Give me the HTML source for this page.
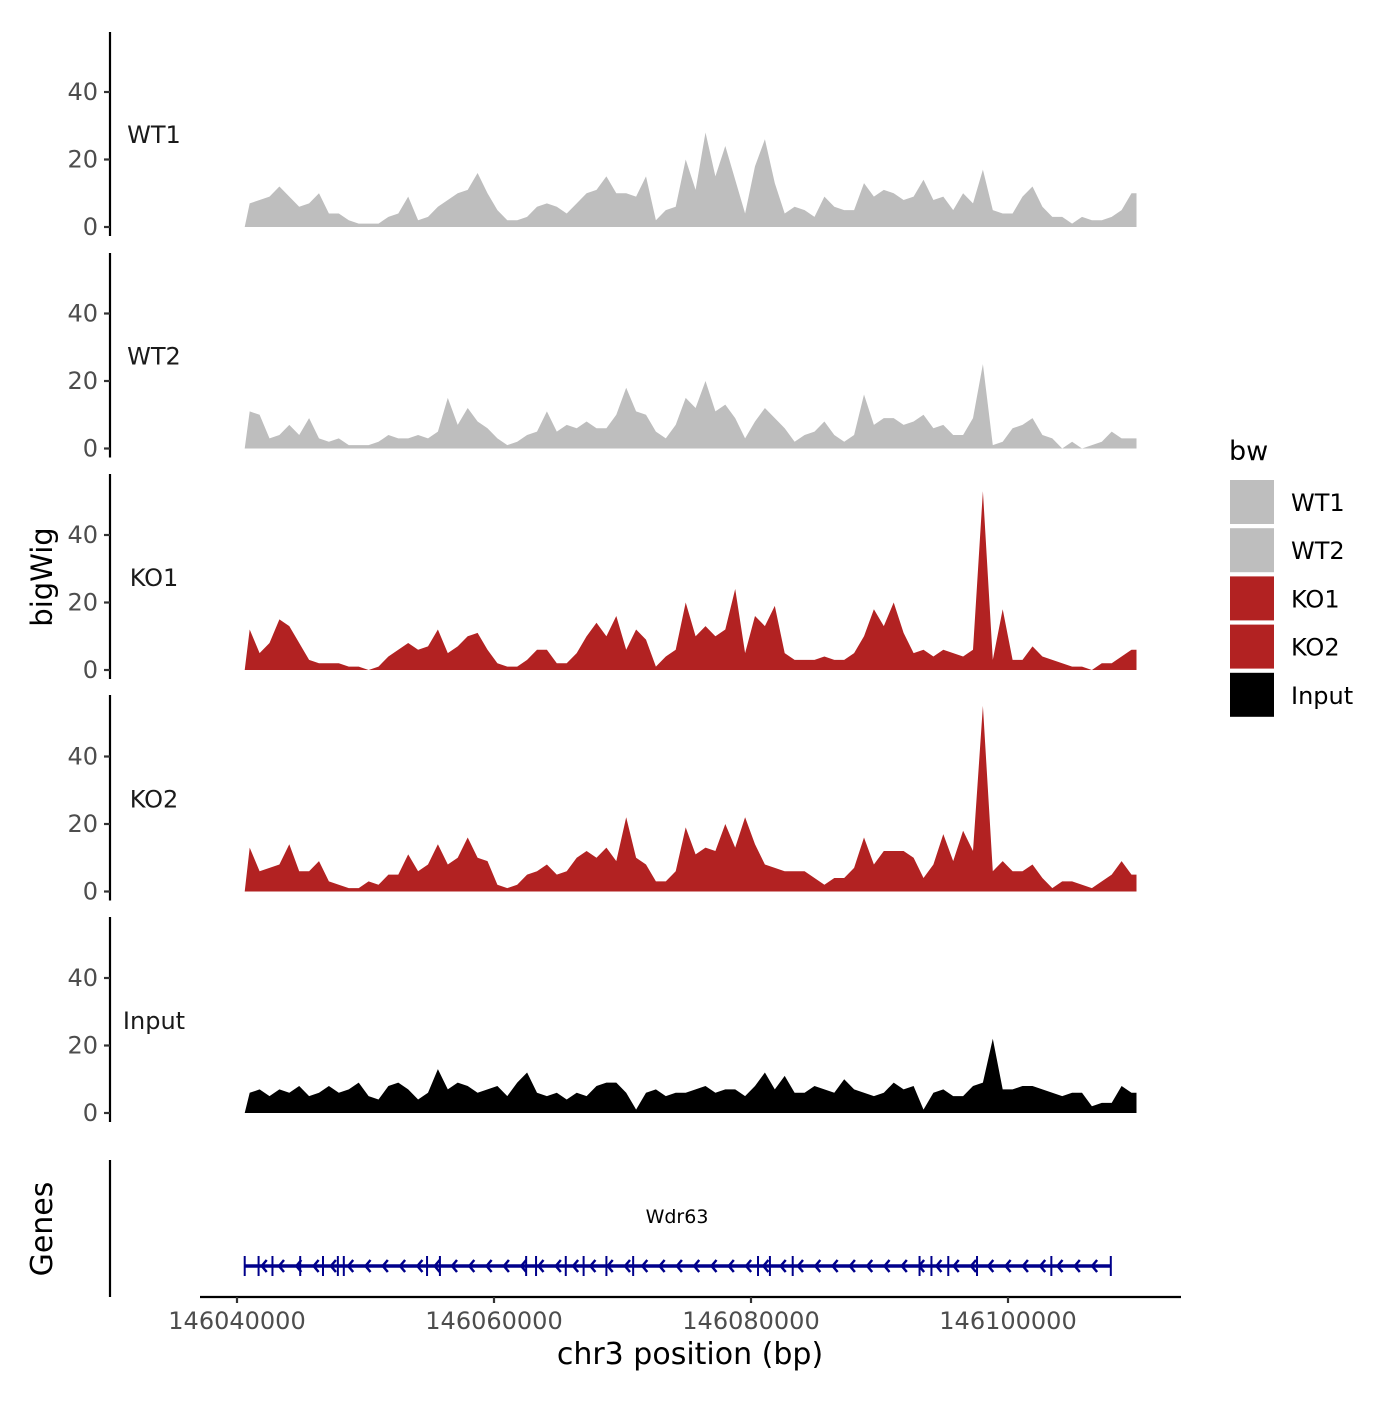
<!DOCTYPE html>
<html><head><meta charset="utf-8"><style>
html,body{margin:0;padding:0;background:#fff;}
svg text{font-family:"DejaVu Sans","Liberation Sans",sans-serif;}
</style></head><body>
<svg id="chart" width="1400" height="1400" viewBox="0 0 1400 1400" xmlns="http://www.w3.org/2000/svg">
<g id="tracks"></g>
<g id="genes"></g>
<g id="xaxis"></g>
<text x="52" y="577" font-size="29" text-anchor="middle" transform="rotate(-90 52 577)">bigWig</text>
<text x="52" y="1229" font-size="30" text-anchor="middle" transform="rotate(-90 52 1229)">Genes</text>
<text x="690" y="1364" font-size="30" text-anchor="middle">chr3 position (bp)</text>
<g id="legend">
<text x="1229" y="460" font-size="27">bw</text>
</g>
</svg>
<script>
const NS="http://www.w3.org/2000/svg";
const trackNames=["WT1","WT2","KO1","KO2","Input"];
const trackColors=["#bebebe","#bebebe","#b22222","#b22222","#000000"];
const wt1=[7,8,9,12,9,6,7,10,4,4,2,1,1,1,3,4,9,2,3,6,8,10,11,16,10,5,2,2,3,6,7,6,4,7,10,11,15,10,10,9,15,2,5,6,20,11,28,15,24,14,4,18,26,13,4,6,5,3,9,6,5,5,13,9,11,10,8,9,14,8,9,5,10,7,17,5,4,4,9,12,6,3,3,1,3,2,2,3,5,10];
const wt2=[11,10,3,4,7,4,9,3,2,3,1,1,1,2,4,3,3,4,3,5,15,7,12,8,6,3,1,2,4,5,11,5,7,6,8,6,6,10,18,11,10,5,3,7,15,12,20,11,13,9,3,8,12,9,6,2,4,5,8,4,2,4,16,7,9,9,7,8,10,6,7,4,4,9,25,1,2,6,7,9,4,3,0,2,0,1,2,5,3,3];
const ko1=[12,5,8,15,13,8,3,2,2,2,1,1,0,1,4,6,8,6,7,12,5,7,10,11,6,2,1,1,3,6,6,2,2,5,10,14,10,16,6,12,9,1,4,6,20,10,13,10,12,24,5,16,13,19,5,3,3,3,4,3,3,5,10,18,13,20,11,5,6,4,6,5,4,6,53,3,18,3,3,7,4,3,2,1,1,0,2,2,4,6];
const ko2=[13,6,7,8,14,6,6,9,3,2,1,1,3,2,5,5,11,6,8,14,8,10,16,10,9,2,1,2,5,6,8,5,6,10,12,10,13,9,22,10,8,3,3,6,19,11,13,12,20,13,22,14,8,7,6,6,6,4,2,4,4,7,16,8,12,12,12,10,4,8,17,9,18,12,55,6,9,6,6,8,4,1,3,3,2,1,3,5,9,5];
const inputVals=[6,7,5,7,6,8,5,6,8,6,7,9,5,4,8,9,7,4,6,13,7,9,8,6,7,8,5,9,12,6,5,6,4,6,5,8,9,9,6,1,6,7,5,6,6,7,8,6,7,7,5,8,12,7,11,6,6,8,7,6,10,7,6,5,6,9,7,8,1,6,7,5,5,8,9,22,7,7,8,8,7,6,5,6,6,2,3,3,8,6];
const seriesList=[wt1,wt2,ko1,ko2,inputVals];
const yTicks=[0,20,40];
const xTicks=[146040000,146060000,146080000,146100000];
const xTickLabels=["146040000","146060000","146080000","146100000"];
const dataStart=146040600, dataEnd=146110000;
const geneName="Wdr63";
const geneStart=146040600, geneEnd=146108000;
const exons=[146040600,146042000,146043400,146046200,146048500,146050000,146050600,146059000,146060300,146069000,146070000,146073000,146074800,146077100,146079800,146092400,146093600,146095900,146108700,146109900,146111600,146114500,146122000,146128000];

const xScale=v=>237+(v-146040000)*(257/20000);
const svg=document.getElementById('chart');
function mk(tag,attrs,parent){const e=document.createElementNS(NS,tag);for(const k in attrs)e.setAttribute(k,attrs[k]);parent.appendChild(e);return e;}
const tracks=document.getElementById('tracks');
const panelTop=[32,253,474,695,917];
trackNames.forEach((name,i)=>{
  const base=227+i*221.5;
  const yS=v=>base-v*3.375;
  const g=mk('g',{},tracks);
  
  
  const ax=mk('line',{x1:110,x2:110,y1:panelTop[i],y2:base+9,stroke:'#000','stroke-width':2.2},g);
  
  
  yTicks.forEach(t=>{
    const tl=mk('line',{x1:104,x2:110,y1:yS(t),y2:yS(t),stroke:'#333','stroke-width':2.2},g);
    
    
    const tx=mk('text',{x:98,y:yS(t)+8,'font-size':24,'text-anchor':'end',fill:'#4d4d4d'},g);
    tx.textContent=t;
    
    
  });
  const lab=mk('text',{x:154,y:base-84,'font-size':24,'text-anchor':'middle',fill:'#1a1a1a'},g);
  lab.textContent=name;
  
  
  const vals=seriesList[i];
  const n=vals.length;
  let d='M'+xScale(dataStart)+','+base;
  vals.forEach((v,j)=>{
    const x=xScale(dataStart+(dataEnd-dataStart)*(j+0.5)/n);
    d+=' L'+x.toFixed(1)+','+yS(v).toFixed(1);
  });
  d+=' L'+xScale(dataEnd)+','+yS(vals[n-1])+' L'+xScale(dataEnd)+','+base+' Z';
  const area=mk('path',{d:d,fill:trackColors[i]},g);
  
  
});
// genes
const gg=document.getElementById('genes');
const gax=mk('line',{x1:110,x2:110,y1:1160,y2:1297,stroke:'#000','stroke-width':2.2},gg);


const gs=xScale(geneStart),ge=xScale(geneEnd);
const gl=mk('line',{x1:gs,x2:ge,y1:1266,y2:1266,stroke:'#00008b','stroke-width':3.5},gg);


for(let x=gs+18;x<ge-6;x+=17.3){
  const a=mk('path',{d:`M${x+4},1260 L${x-1},1266 L${x+4},1272`,stroke:'#00008b','stroke-width':2.5,fill:'none'},gg);
  
  
}
exons.forEach(e=>{
  const x=gs+(e-geneStart)*((ge-gs)/(exons[exons.length-1]-geneStart));
  const r=mk('rect',{x:x-1,y:1256,width:2,height:20,fill:'#00008b'},gg);
  
  
});
const gt=mk('text',{x:677,y:1223,'font-size':19,'text-anchor':'middle',fill:'#000'},gg);
gt.textContent=geneName;


// x axis
const xa=document.getElementById('xaxis');
const xl=mk('line',{x1:200,x2:1181,y1:1297,y2:1297,stroke:'#000','stroke-width':2.2},xa);


xTicks.forEach((t,i)=>{
  const x=xScale(t);
  const tl=mk('line',{x1:x,x2:x,y1:1297,y2:1303,stroke:'#333','stroke-width':2.2},xa);
  
  
  const tx=mk('text',{x:x,y:1329,'font-size':24,'text-anchor':'middle',fill:'#4d4d4d'},xa);
  tx.textContent=xTickLabels[i];
  
  
});
// legend
const lg=document.getElementById('legend');
trackNames.forEach((name,i)=>{
  const y=480+i*48.2;
  const r=mk('rect',{x:1230,y:y,width:44,height:44,fill:trackColors[i]},lg);
  
  
  const t=mk('text',{x:1291,y:y+31,'font-size':24,fill:'#000'},lg);
  t.textContent=name;
  
  
});
</script>
</body></html>
